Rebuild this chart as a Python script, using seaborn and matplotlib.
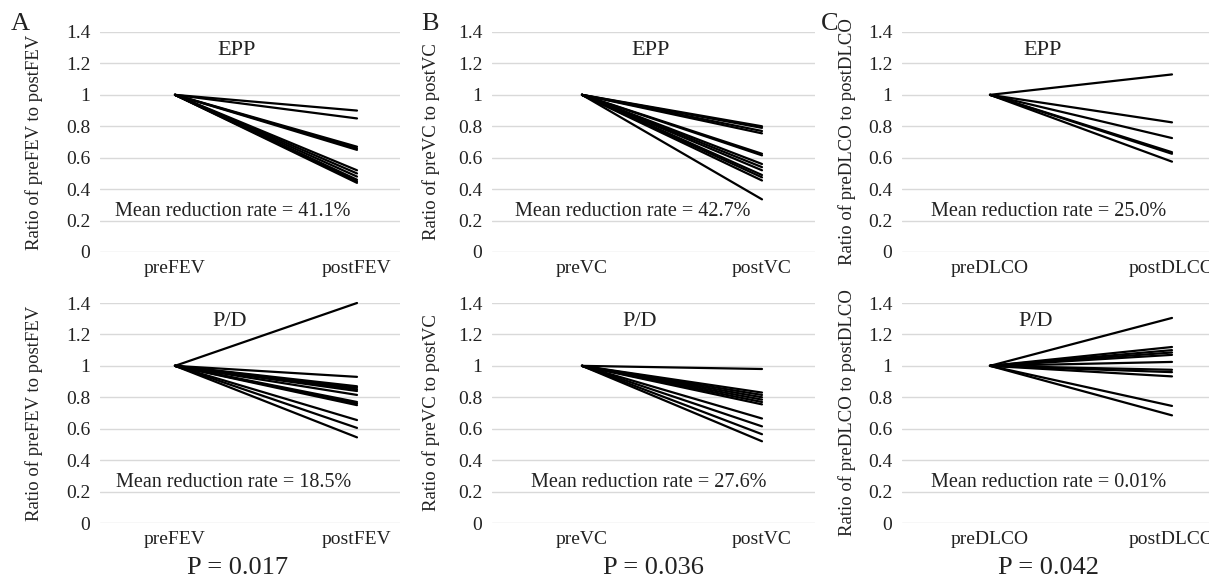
import pandas as pd
import matplotlib.pyplot as plt
import seaborn as sns

# post/pre ratios (pre is always 1)
fev_epp = [0.90, 0.85, 0.67, 0.66, 0.65, 0.52, 0.50, 0.48, 0.46, 0.45, 0.44]
vc_epp = [0.80, 0.79, 0.77, 0.755, 0.625, 0.615, 0.56, 0.54, 0.52, 0.49, 0.475, 0.455, 0.335]
dlco_epp = [1.13, 0.825, 0.725, 0.635, 0.625, 0.575]
fev_pd = [1.40, 0.93, 0.87, 0.86, 0.85, 0.84, 0.815, 0.77, 0.76, 0.75, 0.655, 0.605, 0.545]
vc_pd = [0.98, 0.83, 0.815, 0.80, 0.785, 0.77, 0.755, 0.665, 0.615, 0.565, 0.52]
dlco_pd = [1.305, 1.12, 1.10, 1.085, 1.07, 1.025, 0.975, 0.96, 0.933, 0.745, 0.685]

params = ['FEV', 'VC', 'DLCO']
letters = ['A', 'B', 'C']
epp_rates = ['41.1%', '42.7%', '25.0%']
pd_rates = ['18.5%', '27.6%', '0.01%']
p_values = ['0.017', '0.036', '0.042']

sns.set_theme(style='white')
plt.rcParams['font.family'] = ['Liberation Serif', 'DejaVu Serif']

W, H = 1209, 583
fig = plt.figure(figsize=(W / 100, H / 100), dpi=100)

# pixel layout: gridline start, gridline end, pre x, post x
cols = [(100, 400, 175, 357), (492, 815, 582, 762), (902, 1240, 990, 1172)]
rows = [(32, 252), (303, 523)]
title_x = [[0.34, 0.38, 0.29], [0.30, 0.32, 0.25]]
mean_x = [[0.32, 0.28, 0.32], [0.32, 0.37, 0.32]]
ylab_off = [57, 52, 46]
p_x = [238, 653, 1049]
letter_x = [20, 430, 830]

data = [[fev_epp, vc_epp, dlco_epp], [fev_pd, vc_pd, dlco_pd]]

for r, (ytop, ybot) in enumerate(rows):
    for c, (x0, x1, c0, c1) in enumerate(cols):
        ax = fig.add_axes([x0 / W, (H - ybot) / H, (x1 - x0) / W, (ybot - ytop) / H])
        post = data[r][c]
        name = params[c]
        df = pd.DataFrame({
            'subject': list(range(len(post))) * 2,
            'time': ['pre' + name] * len(post) + ['post' + name] * len(post),
            'ratio': [1.0] * len(post) + post,
        })
        sns.lineplot(data=df, x='time', y='ratio', units='subject', estimator=None,
                     color='black', linewidth=1.6, ax=ax, clip_on=False)
        unit = c1 - c0
        ax.set_xlim((x0 - c0) / unit, (x1 - c0) / unit)
        ax.set_ylim(0, 1.4)
        ax.set_yticks([0, 0.2, 0.4, 0.6, 0.8, 1.0, 1.2, 1.4])
        ax.set_yticklabels(['0', '0.2', '0.4', '0.6', '0.8', '1', '1.2', '1.4'])
        ax.grid(axis='y', color='#d9d9d9', linewidth=1)
        ax.set_axisbelow(True)
        for s in ax.spines.values():
            s.set_visible(False)
        ax.tick_params(axis='both', length=0, labelsize=14, colors='#222222')
        ax.tick_params(axis='y', pad=7)
        ax.tick_params(axis='x', pad=6)
        ax.set_xlabel('')
        ax.set_ylabel('Ratio of pre%s to post%s' % (name, name), fontsize=13.5, color='#222222')
        ax.yaxis.set_label_coords(-ylab_off[c] / (x1 - x0), 0.5)
        ax.text(title_x[r][c], 1.28, 'EPP' if r == 0 else 'P/D', fontsize=16,
                ha='center', va='center', color='#222222')
        rate = epp_rates[c] if r == 0 else pd_rates[c]
        ax.text(mean_x[r][c], 0.26, 'Mean reduction rate = ' + rate, fontsize=14.5,
                ha='center', va='center', color='#222222')

for c in range(3):
    fig.text(p_x[c] / W, 1 - 568 / H, 'P = ' + p_values[c],
             fontsize=19, ha='center', va='center', color='#222222')

for lx, lt in zip(letter_x, letters):
    fig.text(lx / W, 1 - 24 / H, lt, fontsize=19, ha='center', va='center', color='#222222')

fig.savefig('out.png', dpi=100)
